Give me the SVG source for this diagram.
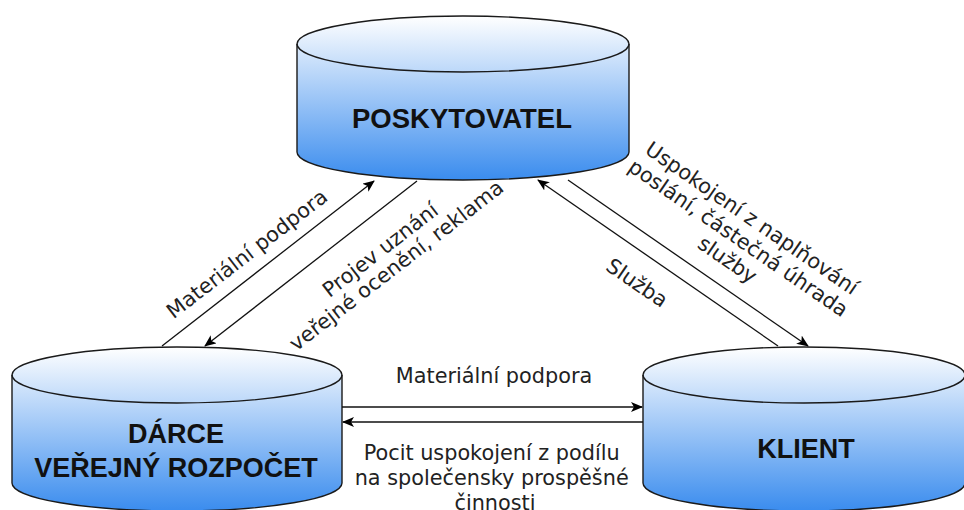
<svg xmlns="http://www.w3.org/2000/svg" width="964" height="510" viewBox="0 0 964 510">
  <defs>
    <linearGradient id="blue" x1="0" y1="0" x2="0" y2="1">
      <stop offset="0" stop-color="#ffffff"/>
      <stop offset="1" stop-color="#3a8cee"/>
    </linearGradient>
    <marker id="arr" viewBox="0 0 12 10" refX="11" refY="5" markerWidth="12" markerHeight="10" markerUnits="userSpaceOnUse" orient="auto">
      <path d="M0,0 L12,5 L0,10 L3,5 Z" fill="#000"/>
    </marker>
    <style>
      .cyl { fill: url(#blue); stroke: #1a1a1a; stroke-width: 1.4; }
      .rim { fill: none; stroke: #1a1a1a; stroke-width: 1.4; }
      .title { font-family: "Liberation Sans", Arial, sans-serif; font-weight: bold; font-size: 27px; fill: #111; text-anchor: middle; }
      .lbl { font-family: "DejaVu Sans", Verdana, sans-serif; font-size: 20.8px; fill: #222; text-anchor: middle; }
      .edge { fill: none; stroke: #111; stroke-width: 1.3; marker-end: url(#arr); }
    </style>
  </defs>

  <g id="poskytovatel">
    <path class="cyl" d="M297,44 A166,28 0 0 1 629,44 V152 A166,28 0 0 1 297,152 Z"/>
    <path class="rim" d="M297,44 A166,28 0 0 0 629,44"/>
    <text class="title" x="462" y="128" style="font-size:27.5px">POSKYTOVATEL</text>
  </g>

  <g id="darce">
    <path class="cyl" d="M12,375 A165,28 0 0 1 342,375 V483 A165,28 0 0 1 12,483 Z"/>
    <path class="rim" d="M12,375 A165,28 0 0 0 342,375"/>
    <text class="title" x="176" y="443">DÁRCE</text>
    <text class="title" x="176" y="477">VEŘEJNÝ ROZPOČET</text>
  </g>

  <g id="klient">
    <path class="cyl" d="M643,375 A161,28 0 0 1 965,375 V483 A161,28 0 0 1 643,483 Z"/>
    <path class="rim" d="M643,375 A161,28 0 0 0 965,375"/>
    <text class="title" x="806" y="458">KLIENT</text>
  </g>

  <g id="connectors">
    <line class="edge" x1="162" y1="346" x2="374" y2="181"/>
    <line class="edge" x1="417" y1="181" x2="205" y2="346"/>
    <line class="edge" x1="778" y1="346" x2="538" y2="180"/>
    <line class="edge" x1="568" y1="180" x2="808" y2="346"/>
    <line class="edge" x1="342" y1="407" x2="642" y2="407"/>
    <line class="edge" x1="643" y1="422" x2="343" y2="422"/>
  </g>

  <g id="labels">
    <text class="lbl" transform="translate(247,254) rotate(-37.7)" y="7">Materiální podpora</text>
    <text class="lbl" transform="translate(383,248) rotate(-37.7)">
      <tspan x="0" y="7">Projev uznání</tspan>
      <tspan x="0" y="29">veřejné ocenění, reklama</tspan>
    </text>
    <text class="lbl" transform="translate(637,283) rotate(34.5)" y="7">Služba</text>
    <text class="lbl" transform="translate(741,240) rotate(34.5)">
      <tspan x="0" y="-17">Uspokojení z naplňování</tspan>
      <tspan x="0" y="7">poslání, částečná úhrada</tspan>
      <tspan x="0" y="31">služby</tspan>
    </text>
    <text class="lbl" x="494" y="383">Materiální podpora</text>
    <text class="lbl">
      <tspan x="495" y="460">Pocit uspokojení z podílu</tspan>
      <tspan x="495" y="485">na společensky prospěšné</tspan>
      <tspan x="495" y="510">činnosti</tspan>
    </text>
  </g>
</svg>
